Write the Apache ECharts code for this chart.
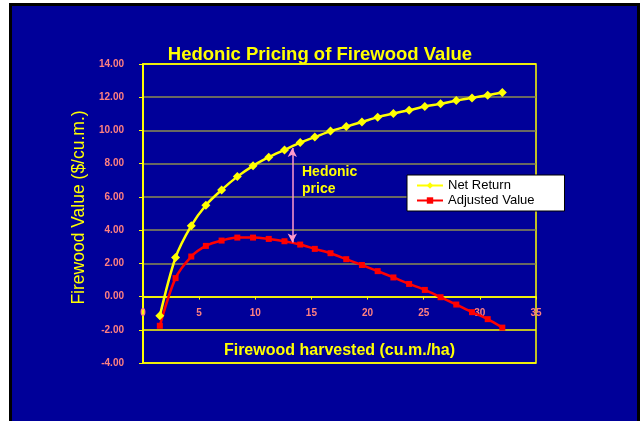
<!DOCTYPE html>
<html>
<head>
<meta charset="utf-8">
<script src="https://cdn.jsdelivr.net/npm/echarts@6/dist/echarts.min.js"></script>
<style>
  body { margin: 0; background: #ffffff; }
  #frame { position: absolute; left: 9px; top: 3px; width: 631px; height: 418px; background: #000000; }
  #inner { position: absolute; left: 12px; top: 6px; width: 625px; height: 415px; background: #000099; }
  #main { position: absolute; left: 0; top: 0; width: 640px; height: 421px; }
</style>
</head>
<body>
<div id="frame"></div>
<div id="inner"></div>
<div id="main"></div>
<script>
// firewood harvested (cu.m./ha)
var harvested = [1.5, 2.9, 4.3, 5.6, 7.0, 8.4, 9.8, 11.2, 12.6, 14.0, 15.3, 16.7,
                 18.1, 19.5, 20.9, 22.3, 23.7, 25.1, 26.5, 27.9, 29.3, 30.7, 32.0];
var netReturn = [-1.16, 2.35, 4.27, 5.50, 6.42, 7.22, 7.87, 8.39, 8.83, 9.27, 9.60, 9.96,
                 10.23, 10.51, 10.80, 11.02, 11.22, 11.44, 11.60, 11.80, 11.96, 12.12, 12.28];
var adjustedValue = [-1.76, 1.11, 2.41, 3.05, 3.37, 3.55, 3.55, 3.47, 3.33, 3.13, 2.87, 2.61,
                     2.25, 1.90, 1.53, 1.15, 0.76, 0.40, -0.04, -0.48, -0.94, -1.36, -1.87];
// hedonic price arrow (x, top, bottom)
var arrowX = 13.3;
var arrowTop = 8.95;
var arrowBottom = 3.25;

var yellow = '#ffff00';
var tickColor = '#ff8080';
var font = 'Arial, "Liberation Sans", sans-serif';

var myChart = echarts.init(document.getElementById('main'));
var option = {
    animation: false,
    backgroundColor: 'transparent',
    title: {
        text: 'Hedonic Pricing of Firewood Value',
        left: 'center',
        top: 40,
        textStyle: { color: yellow, fontSize: 18.5, fontWeight: 'bold', fontFamily: font }
    },
    legend: {
        orient: 'vertical',
        left: 407,
        top: 175,
        backgroundColor: '#ffffff',
        borderColor: '#000000',
        borderWidth: 1,
        borderRadius: 0,
        padding: [4, 30, 4, 9],
        itemGap: 2,
        itemWidth: 26,
        itemHeight: 8,
        textStyle: { color: '#000000', fontSize: 13, fontFamily: font },
        data: ['Net Return', 'Adjusted Value']
    },
    grid: {
        left: 143, right: 104, top: 64, bottom: 58,
        show: true,
        borderColor: yellow,
        borderWidth: 1.5
    },
    graphic: [{
        type: 'text',
        left: 302,
        top: 164,
        style: {
            text: 'Hedonic\nprice',
            fill: yellow,
            font: 'bold 14px ' + font,
            lineHeight: 17
        }
    }],
    xAxis: {
        type: 'value',
        min: 0, max: 35, interval: 5,
        offset: -66.4,
        name: 'Firewood harvested (cu.m./ha)',
        nameLocation: 'middle',
        nameGap: 46,
        nameTextStyle: { color: yellow, fontSize: 16, fontWeight: 'bold', fontFamily: font },
        axisLine: { onZero: false, lineStyle: { color: yellow, width: 1.5 } },
        axisTick: { show: true, length: 3, lineStyle: { color: yellow } },
        axisLabel: { color: tickColor, fontSize: 10, fontWeight: 'bold', fontFamily: font, margin: 12 },
        splitLine: { show: false }
    },
    yAxis: {
        type: 'value',
        min: -4, max: 14, interval: 2,
        name: 'Firewood Value ($/cu.m.)',
        nameLocation: 'middle',
        nameGap: 53,
        nameTextStyle: { color: yellow, fontSize: 17.5, fontFamily: font, padding: [0, 0, 0, 12] },
        axisLine: { show: true, lineStyle: { color: yellow, width: 2 } },
        axisTick: { show: true, length: 4, lineStyle: { color: yellow } },
        axisLabel: {
            color: tickColor, fontSize: 10, fontWeight: 'bold', fontFamily: font, margin: 19,
            formatter: function (v) { return v.toFixed(2); }
        },
        splitLine: {
            show: true,
            lineStyle: {
                color: [yellow, yellow, yellow, '#8c8c50', '#8c8c50', '#8c8c50',
                        '#8c8c50', '#8c8c50', '#8c8c50', yellow],
                width: 1.5
            }
        }
    },
    series: [
        {
            name: 'Net Return',
            type: 'line',
            smooth: 0.3,
            symbol: 'diamond',
            symbolSize: 9,
            lineStyle: { color: yellow, width: 2.5 },
            itemStyle: { color: yellow },
            data: harvested.map(function (x, i) { return [x, netReturn[i]]; }),
            markLine: {
                silent: true,
                symbol: ['arrow', 'arrow'],
                symbolSize: [7, 9],
                label: { show: false },
                lineStyle: { color: '#ff99cc', width: 1.5, type: 'solid' },
                data: [[{ coord: [arrowX, arrowTop] }, { coord: [arrowX, arrowBottom] }]]
            }
        },
        {
            name: 'Adjusted Value',
            type: 'line',
            smooth: 0.3,
            symbol: 'rect',
            symbolSize: 6,
            lineStyle: { color: '#ff0000', width: 2.5 },
            itemStyle: { color: '#ff0000' },
            data: harvested.map(function (x, i) { return [x, adjustedValue[i]]; })
        }
    ]
};

myChart.setOption(option);
</script>
</body>
</html>
